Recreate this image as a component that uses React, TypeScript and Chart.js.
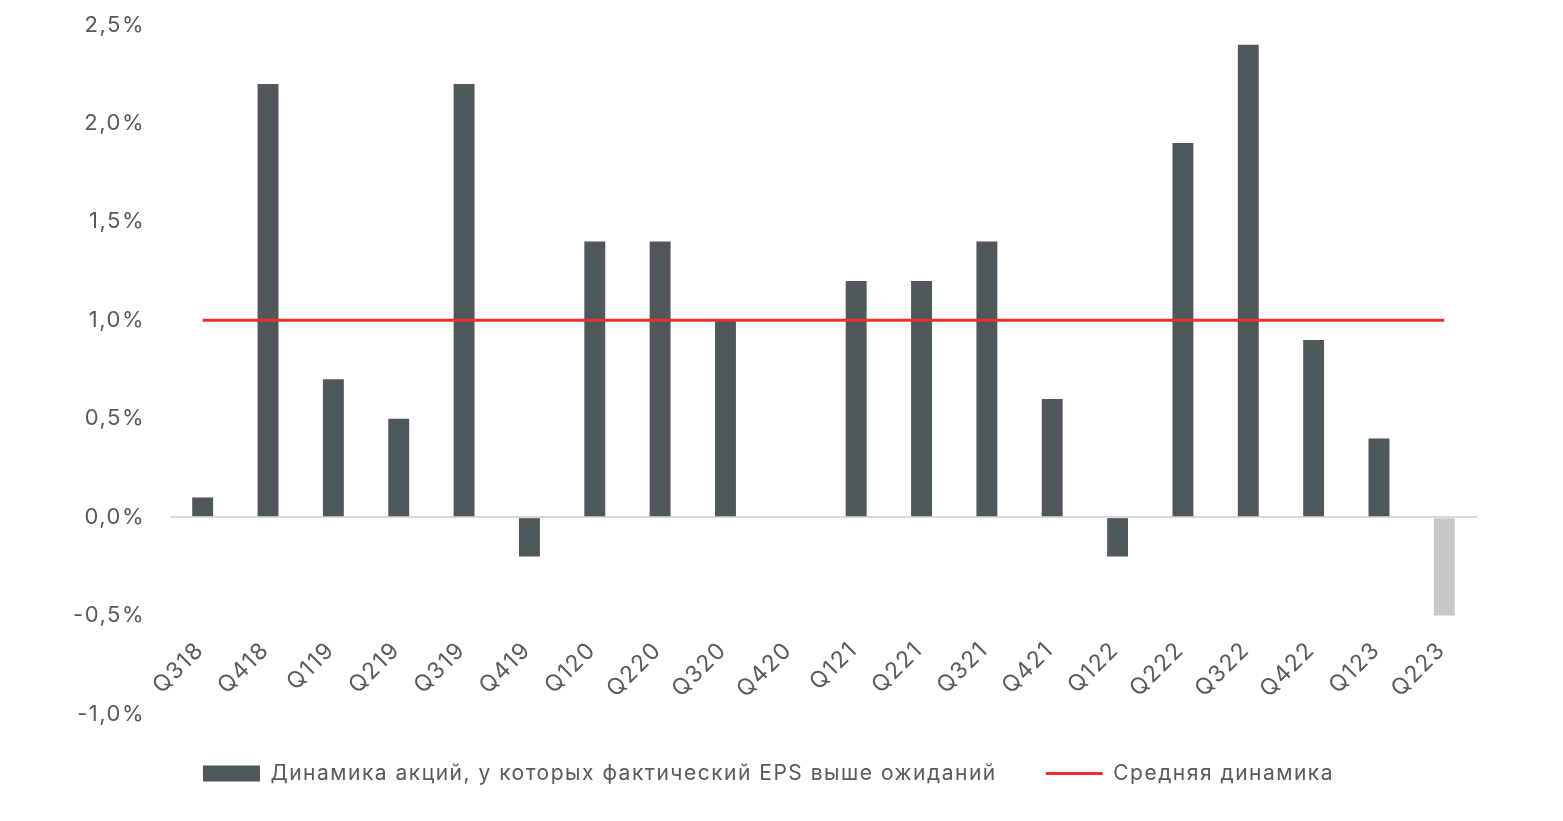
import React, { useEffect, useRef } from "react";
import { Chart, registerables } from "chart.js";

Chart.register(...registerables);

const categories = [
  "Q318", "Q418", "Q119", "Q219", "Q319", "Q419", "Q120", "Q220", "Q320", "Q420",
  "Q121", "Q221", "Q321", "Q421", "Q122", "Q222", "Q322", "Q422", "Q123", "Q223",
];
const stockMoves = [
  0.1, 2.2, 0.7, 0.5, 2.2, -0.2, 1.4, 1.4, 1.0, 0.0,
  1.2, 1.2, 1.4, 0.6, -0.2, 1.9, 2.4, 0.9, 0.4, -0.5,
];
const averageMove = [
  1.0, 1.0, 1.0, 1.0, 1.0, 1.0, 1.0, 1.0, 1.0, 1.0,
  1.0, 1.0, 1.0, 1.0, 1.0, 1.0, 1.0, 1.0, 1.0, 1.0,
];
const barLabel = "Динамика акций, у которых фактический EPS выше ожиданий";
const lineLabel = "Средняя динамика";
const yMin = -1.0;
const yMax = 2.5;
const yStep = 0.5;

const DARK = "#4F5758";
const LIGHT = "#C8C8C8";
const RED = "#E8312A";
const TEXT = "#595959";
const FONT = "Inter, 'DejaVu Sans', sans-serif";
const SPACING = "1.5px";

const spacingPlugin = {
  id: "letterSpacing",
  beforeUpdate(chart: any) {
    chart.ctx.letterSpacing = SPACING;
  },
  beforeDraw(chart: any) {
    chart.ctx.letterSpacing = SPACING;
  },
};

export default function App() {
  const ref = useRef<HTMLCanvasElement | null>(null);

  useEffect(() => {
    if (!ref.current) return;
    const chart = new Chart(ref.current, {
      type: "bar",
      plugins: [spacingPlugin],
      data: {
        labels: categories,
        datasets: [
          {
            type: "line",
            label: lineLabel,
            data: averageMove,
            borderColor: RED,
            backgroundColor: RED,
            borderWidth: 3,
            pointRadius: 0,
            pointStyle: "line",
            order: 0,
          } as any,
          {
            type: "bar",
            label: barLabel,
            data: stockMoves,
            backgroundColor: stockMoves.map((_, i) => (i === stockMoves.length - 1 ? LIGHT : DARK)),
            borderWidth: 0,
            barPercentage: 0.32,
            categoryPercentage: 1,
            pointStyle: "rect",
            order: 1,
          } as any,
        ],
      },
      options: {
        responsive: false,
        animation: false,
        layout: { padding: { left: 60, right: 86, top: 25, bottom: 27 } },
        plugins: {
          tooltip: { enabled: false },
          legend: {
            position: "bottom",
            maxHeight: 80,
            reverse: true,
            labels: {
              usePointStyle: true,
              pointStyleWidth: 57,
              boxHeight: 16,
              padding: 49,
              color: TEXT,
              font: { family: FONT, size: 21 },
            },
          } as any,
        },
        scales: {
          x: {
            grid: { display: false },
            border: { display: false },
            ticks: {
              color: TEXT,
              font: { family: FONT, size: 23 },
              maxRotation: 45,
              minRotation: 45,
              autoSkip: false,
              mirror: true,
              padding: 58,
              labelOffset: 17,
            },
            afterFit: (scale: any) => {
              scale.height = 0;
            },
          },
          y: {
            min: yMin,
            max: yMax,
            grid: {
              drawTicks: false,
              lineWidth: 2,
              color: (ctx: any) => (ctx.tick && Math.abs(ctx.tick.value) < 1e-9 ? "#D9D9D9" : "rgba(0,0,0,0)"),
            },
            border: { display: false },
            ticks: {
              stepSize: yStep,
              color: TEXT,
              font: { family: FONT, size: 22 },
              padding: 25,
              callback: (v: any) => (Math.round(Number(v) * 10) / 10).toFixed(1).replace(".", ",") + "%",
            },
            afterFit: (scale: any) => {
              scale.width = 110;
              scale.paddingTop = 0;
              scale.paddingBottom = 0;
            },
          },
        },
      },
    });
    return () => chart.destroy();
  }, []);

  return (
    <div style={{ position: "absolute", left: 0, top: 0, width: 1563, height: 821, background: "#fff" }}>
      <canvas ref={ref} width={1563} height={821} style={{ display: "block" }} />
    </div>
  );
}
